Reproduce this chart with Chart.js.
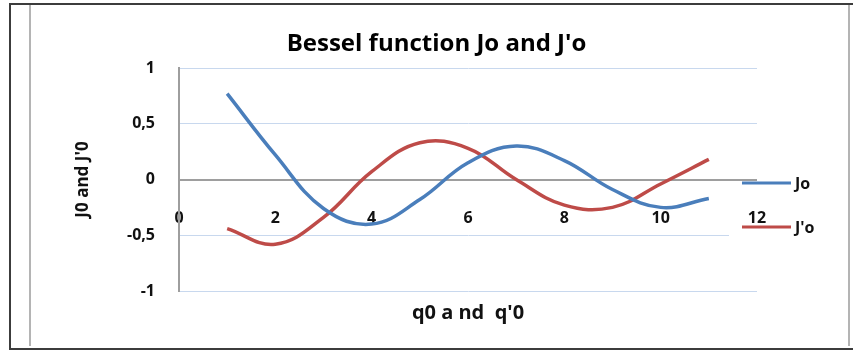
<!DOCTYPE html>
<html>
<head>
<meta charset="utf-8">
<title>Bessel function Jo and J'o</title>
<script src="https://cdn.jsdelivr.net/npm/chart.js@4"></script>
<style>
  html, body { margin: 0; padding: 0; background: #fff; }
  #wrap { position: relative; width: 853px; height: 353px; overflow: hidden; }
  #wrap canvas { position: absolute; left: 0; top: 0; }
  .edge { position: absolute; pointer-events: none; }
</style>
</head>
<body>
<div id="wrap">
  <canvas id="besselChart" width="853" height="353"></canvas>
  <!-- page frame around the chart -->
  <div class="edge" style="left:9px; top:3px; right:0; height:2px; background:#3c3c3c;"></div>
  <div class="edge" style="left:9px; top:3px; width:2px; height:347px; background:#3c3c3c;"></div>
  <div class="edge" style="left:9px; top:348px; right:0; height:2px; background:#3c3c3c;"></div>
  <div class="edge" style="left:29px; top:5px; width:2px; height:341px; background:#b4b4b4;"></div>
  <div class="edge" style="left:848px; top:5px; width:2px; height:341px; background:#b4b4b4;"></div>
</div>
<script>
// sample points and the two curves
const xValues = [1, 2, 3, 4, 5, 6, 7, 8, 9, 10, 11];
const j0 = [0.77, 0.22, -0.26, -0.40, -0.18, 0.15, 0.30, 0.17, -0.09, -0.25, -0.17];
const dj0 = [-0.44, -0.58, -0.34, 0.07, 0.33, 0.28, 0.00, -0.23, -0.25, -0.04, 0.18];

const seriesNames = ["Jo", "J'o"];
const xTicks = [0, 2, 4, 6, 8, 10, 12];
const yTicks = [-1, -0.5, 0, 0.5, 1];

const toPoints = (ys) => xValues.map((x, i) => ({ x: x, y: ys[i] }));

const labelFont = { family: "Open Sans", size: 16, weight: "bold" };

// legend drawn at the right side, partly over the plot
const sideLegend = {
	id: "sideLegend",
	beforeDatasetsDraw(chart) {
		const ctx = chart.ctx;
		ctx.save();
		ctx.fillStyle = "#ffffff";
		ctx.fillRect(729, 229, 40, 10);
		ctx.restore();
	},
	afterDraw(chart) {
		const ctx = chart.ctx;
		const rows = [183, 227];
		ctx.save();
		ctx.font = "bold 16px 'Open Sans'";
		ctx.textBaseline = "middle";
		chart.data.datasets.forEach((ds, i) => {
			ctx.strokeStyle = ds.borderColor;
			ctx.lineWidth = 3;
			ctx.beginPath();
			ctx.moveTo(742, rows[i]);
			ctx.lineTo(791, rows[i]);
			ctx.stroke();
			ctx.fillStyle = "#111";
			ctx.fillText(ds.label, 795, rows[i] + 1);
		});
		ctx.restore();
	},
};

const ctx = document.getElementById("besselChart").getContext("2d");
new Chart(ctx, {
	type: "line",
	data: {
		datasets: [
			{
				label: seriesNames[0],
				data: toPoints(j0),
				borderColor: "#4a7ebb",
				borderWidth: 3.5,
				pointRadius: 0,
				tension: 0.4,
				fill: false,
			},
			{
				label: seriesNames[1],
				data: toPoints(dj0),
				borderColor: "#be4b48",
				borderWidth: 3.5,
				pointRadius: 0,
				tension: 0.4,
				fill: false,
			},
		],
	},
	options: {
		responsive: false,
		animation: false,
		devicePixelRatio: 1,
		layout: { padding: { left: 20, right: 0, top: 0, bottom: 62 } },
		plugins: {
			legend: { display: false },
			tooltip: { enabled: false },
			title: {
				display: true,
				text: "Bessel function Jo and J'o",
				color: "#000",
				font: { family: "Open Sans", size: 24, weight: "bold" },
				padding: { top: 29.6, bottom: 9.6 },
			},
		},
		scales: {
			x: {
				type: "linear",
				position: { y: 0 },
				min: 0,
				max: 12,
				z: 1,
				afterBuildTicks: (scale) => {
					scale.ticks = xTicks.map((v) => ({ value: v }));
				},
				grid: { display: false },
				border: { display: false },
				ticks: {
					padding: 21,
					color: "#111",
					font: labelFont,
				},
				title: {
					display: true,
					text: "q0 a nd  q'0",
					color: "#111",
					font: { family: "Open Sans", size: 20, weight: "bold" },
					padding: { top: 78.4, bottom: 0 },
				},
			},
			y: {
				position: "left",
				min: -1,
				max: 1,
				afterBuildTicks: (scale) => {
					scale.ticks = yTicks.map((v) => ({ value: v }));
				},
				afterFit: (scale) => {
					scale.width = 159;
				},
				grid: {
					drawTicks: false,
					color: (c) => (c.tick && c.tick.value === 0 ? "#9e9e9e" : "#c8d8ee"),
					lineWidth: (c) => (c.tick && c.tick.value === 0 ? 2 : 1),
				},
				border: { display: true, color: "#9e9e9e", width: 2 },
				ticks: {
					padding: 24,
					color: "#111",
					font: labelFont,
					callback: (v) => String(v).replace(".", ","),
				},
				title: {
					display: true,
					text: "J0 and J'0",
					color: "#111",
					font: { family: "Open Sans", size: 17, weight: "bold" },
					padding: { top: 52.8, bottom: 0 },
				},
			},
			// keeps room on the right for the legend
			spacer: {
				position: "right",
				afterFit: (scale) => {
					scale.width = 96;
				},
				grid: { display: false },
				border: { display: false },
				ticks: { display: false },
			},
		},
	},
	plugins: [sideLegend],
});
</script>
</body>
</html>
